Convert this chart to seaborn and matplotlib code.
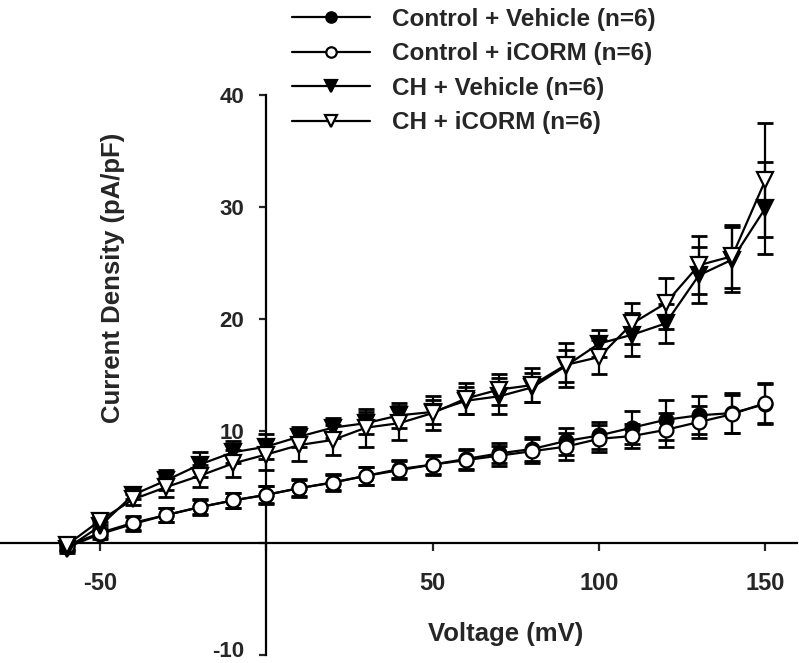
import numpy as np
import pandas as pd
import seaborn as sns
import matplotlib.pyplot as plt
from matplotlib.transforms import ScaledTranslation

# voltage steps (mV)
voltage = [-60, -50, -40, -30, -20, -10, 0, 10, 20, 30, 40, 50,
           60, 70, 80, 90, 100, 110, 120, 130, 140, 150]

# current density means (pA/pF) and SEM per group
ctrl_veh = [-0.4, 0.8, 1.7, 2.5, 3.2, 3.8, 4.3, 4.9, 5.4, 6.0, 6.6, 7.0,
            7.5, 8.0, 8.4, 9.1, 9.6, 10.3, 11.0, 11.4, 11.6, 12.4]
ctrl_veh_err = [0.3, 0.4, 0.6, 0.6, 0.7, 0.7, 0.8, 0.8, 0.8, 0.8, 0.8, 0.9,
                0.9, 0.9, 1.1, 1.2, 1.2, 1.5, 1.8, 1.7, 1.8, 1.8]
ctrl_icorm = [-0.3, 0.9, 1.8, 2.5, 3.2, 3.8, 4.3, 4.9, 5.4, 6.0, 6.5, 7.0,
              7.4, 7.8, 8.2, 8.6, 9.3, 9.55, 10.1, 10.8, 11.5, 12.5]
ctrl_icorm_err = [0.3, 0.4, 0.6, 0.6, 0.65, 0.7, 0.75, 0.7, 0.7, 0.8, 0.8, 0.8,
                  0.9, 0.9, 1.1, 1.2, 1.2, 1.1, 1.5, 1.4, 1.7, 1.8]
ch_veh = [-0.5, 1.5, 4.3, 5.6, 7.0, 8.1, 8.6, 9.5, 10.3, 10.7, 11.4, 11.7,
          12.7, 13.1, 13.9, 15.8, 17.8, 18.6, 19.6, 23.9, 25.3, 29.9]
ch_veh_err = [0.4, 0.4, 0.4, 0.9, 1.1, 1.0, 1.1, 0.9, 0.9, 1.0, 1.1, 1.1,
              1.2, 1.6, 1.3, 1.4, 1.2, 1.9, 1.7, 2.5, 2.9, 4.1]
ch_icorm = [-0.2, 2.0, 3.9, 5.0, 6.0, 7.1, 7.9, 8.75, 9.2, 10.3, 10.7, 11.6,
            12.9, 13.7, 14.1, 15.9, 16.6, 19.6, 21.4, 24.8, 25.6, 32.4]
ch_icorm_err = [0.4, 0.4, 0.5, 0.9, 1.0, 1.2, 1.4, 1.4, 1.3, 1.7, 1.5, 1.5,
                1.4, 1.4, 1.5, 2.0, 1.5, 1.8, 2.3, 2.6, 2.8, 5.1]

groups = ['Control + Vehicle (n=6)', 'Control + iCORM (n=6)',
          'CH + Vehicle (n=6)', 'CH + iCORM (n=6)']
means = [ctrl_veh, ctrl_icorm, ch_veh, ch_icorm]
errs = [ctrl_veh_err, ctrl_icorm_err, ch_veh_err, ch_icorm_err]
markers = ['o', 'o', 'v', 'v']
faces = ['black', 'white', 'black', 'white']

df = pd.concat([pd.DataFrame({'V': voltage, 'I': m, 'err': e, 'group': g})
                for g, m, e in zip(groups, means, errs)])

sns.set_style('white')
plt.rcParams['font.family'] = ['Liberation Sans', 'DejaVu Sans']
plt.rcParams['font.weight'] = 'bold'

fig = plt.figure(figsize=(7.99, 6.63), dpi=100)
ax = fig.add_axes([0, 8 / 663, 797 / 799, 560 / 663])

for g, mk, fc in zip(groups, markers, faces):
    d = df[df['group'] == g]
    ax.errorbar(d['V'], d['I'], yerr=d['err'], fmt='none', ecolor='black',
                elinewidth=1.6, capsize=5.8, capthick=2.0, zorder=2)
    sns.lineplot(data=d, x='V', y='I', ax=ax, color='black', lw=1.6,
                 marker=mk, markersize=10 if mk == 'o' else 11.5,
                 markerfacecolor=fc, markeredgecolor='black',
                 markeredgewidth=1.6, label=g, zorder=3)

ax.set_xlim(-80, 159.5)
ax.set_ylim(-10, 40)
for s in ['top', 'right']:
    ax.spines[s].set_visible(False)
ax.spines['left'].set_position(('data', 0))
ax.spines['bottom'].set_position(('data', 0))
for s in ['left', 'bottom']:
    ax.spines[s].set_linewidth(1.6)
    ax.spines[s].set_color('black')

ax.set_xticks([-50, 0, 50, 100, 150])
ax.set_xticklabels(['-50', '', '50', '100', '150'])
ax.set_yticks([-10, 0, 10, 20, 30, 40])
ax.set_yticklabels(['-10', '', '10', '20', '30', '40'])
ax.tick_params(axis='x', direction='out', length=6, width=1.6, pad=15,
               labelsize=17, bottom=True)
ax.tick_params(axis='y', direction='out', length=5, width=1.6, pad=11,
               labelsize=16, left=True)
for lab in ax.get_xticklabels() + ax.get_yticklabels():
    lab.set_fontweight('bold')
# nudge the bottom "-10" label up so it stays inside the figure
low = ax.get_yticklabels()[0]
low.set_transform(low.get_transform() +
                  ScaledTranslation(0, 4 / 72, fig.dpi_scale_trans))
ax.set_xlabel('')
ax.set_ylabel('')

fig.text(506 / 799, 1 - 634 / 663, 'Voltage (mV)', ha='center', va='center',
         fontsize=18.5, fontweight='bold')
fig.text(113 / 799, 1 - 278 / 663, 'Current Density (pA/pF)', ha='center',
         va='center', rotation=90, fontsize=18.5, fontweight='bold')

ax.get_legend().remove()
handles, labels = ax.get_legend_handles_labels()
leg = fig.legend(handles, labels, loc='upper left',
                 bbox_to_anchor=(292 / 799, 1 - 8 / 663), frameon=False,
                 prop={'size': 17.5, 'weight': 'bold'}, handlelength=3.2,
                 handletextpad=0.9, labelspacing=0.47, markerscale=0.75,
                 borderaxespad=0, borderpad=0)

fig.savefig('out.png', dpi=100)
